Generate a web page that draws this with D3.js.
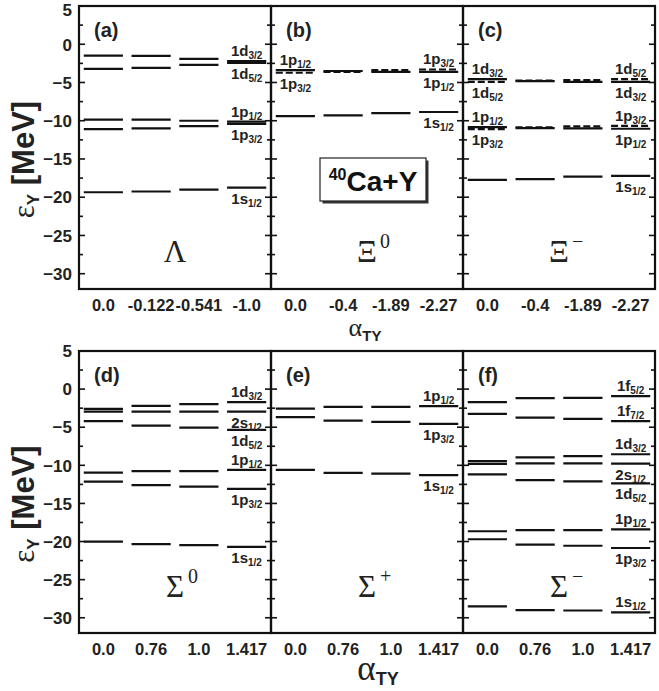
<!DOCTYPE html>
<html><head><meta charset="utf-8">
<script src="https://cdn.jsdelivr.net/npm/d3@7"></script>
<style>body{margin:0;background:#fff} svg{display:block}</style>
</head><body>
<svg id="chart" width="659" height="691"></svg>
<script>
// ---------- data ----------
const yTickValues = [5, 0, -5, -10, -15, -20, -25, -30];
const xLabelsLambda = ["0.0", "-0.122", "-0.541", "-1.0"];
const xLabelsXi = ["0.0", "-0.4", "-1.89", "-2.27"];
const xLabelsSigma = ["0.0", "0.76", "1.0", "1.417"];
const panelLetters = ["(a)", "(b)", "(c)", "(d)", "(e)", "(f)"];
const hyperonNames = [["Λ", ""], ["Ξ", "0"], ["Ξ", "−"], ["Σ", "0"], ["Σ", "+"], ["Σ", "−"]];

// single-particle levels [state, values at the 4 couplings]
const levelsLambda = [
  ["1d3/2", [-1.5, -1.53, -1.92, -2.2]],
  ["1d5/2", [-3.23, -3.08, -2.7, -2.45]],
  ["1p1/2", [-9.85, -9.85, -10.0, -10.12]],
  ["1p3/2", [-11.1, -11.0, -10.7, -10.4]],
  ["1s1/2", [-19.35, -19.25, -19.0, -18.75]]
];
const levelsXi0 = [
  ["1p1/2", [-3.38, -3.5, -3.6, -3.6]],
  ["1p3/2", [-3.73, -3.62, -3.38, -3.3]],
  ["1s1/2", [-9.39, -9.3, -9.0, -8.86]]
];
const levelsXiMinus = [
  ["1d3/2", [-4.56, -4.82, -4.91, -4.91]],
  ["1d5/2", [-4.91, -4.74, -4.69, -4.56]],
  ["1p1/2", [-10.83, -10.96, -11.0, -11.05]],
  ["1p3/2", [-11.1, -10.88, -10.75, -10.66]],
  ["1s1/2", [-17.72, -17.64, -17.3, -17.2]]
];
const levelsSigma0 = [
  ["1d3/2", [-2.6, -2.2, -1.97, -1.71]],
  ["2s1/2", [-2.95, -2.95, -2.95, -2.95]],
  ["1d5/2", [-4.2, -4.8, -5.05, -5.36]],
  ["1p1/2", [-10.95, -10.75, -10.75, -10.6]],
  ["1p3/2", [-12.15, -12.6, -12.8, -13.1]],
  ["1s1/2", [-20.02, -20.35, -20.48, -20.7]]
];
const levelsSigmaPlus = [
  ["1p1/2", [-2.55, -2.33, -2.33, -2.24]],
  ["1p3/2", [-3.68, -4.13, -4.3, -4.57]],
  ["1s1/2", [-10.6, -11.0, -11.1, -11.28]]
];
const levelsSigmaMinus = [
  ["1f5/2", [-1.71, -1.18, -1.14, -0.92]],
  ["1f7/2", [-3.25, -3.73, -3.9, -4.21]],
  ["1d3/2", [-9.46, -8.95, -8.78, -8.55]],
  ["2s1/2", [-9.8, -9.74, -9.74, -9.78]],
  ["1d5/2", [-11.2, -11.93, -12.1, -12.37]],
  ["1p1/2", [-18.65, -18.5, -18.5, -18.4]],
  ["1p3/2", [-19.7, -20.4, -20.55, -20.85]],
  ["1s1/2", [-28.5, -29.0, -29.05, -29.3]]
];

// level labels: [state, coupling index, side]
const labelsLambda = [["1d3/2",3,"above"],["1d5/2",3,"below"],["1p1/2",3,"above"],["1p3/2",3,"below"],["1s1/2",3,"below"]];
const labelsXi0 = [["1p1/2",0,"above"],["1p3/2",0,"below"],["1p3/2",3,"above"],["1p1/2",3,"below"],["1s1/2",3,"below"]];
const labelsXiMinus = [["1d3/2",0,"above"],["1d5/2",0,"below"],["1p1/2",0,"above"],["1p3/2",0,"below"],
  ["1d5/2",3,"above"],["1d3/2",3,"below"],["1p3/2",3,"above"],["1p1/2",3,"below"],["1s1/2",3,"below"]];
const labelsSigma0 = [["1d3/2",3,"above"],["2s1/2",3,"below"],["1d5/2",3,"below"],["1p1/2",3,"above"],["1p3/2",3,"below"],["1s1/2",3,"below"]];
const labelsSigmaPlus = [["1p1/2",3,"above"],["1p3/2",3,"below"],["1s1/2",3,"below"]];
const labelsSigmaMinus = [["1f5/2",3,"above"],["1f7/2",3,"above"],["1d3/2",3,"above"],["2s1/2",3,"below"],["1d5/2",3,"below"],
  ["1p1/2",3,"above"],["1p3/2",3,"below"],["1s1/2",3,"above"]];

// ---------- drawing ----------
const svg = d3.select("#chart");
const SANS = "'Liberation Sans', Arial, sans-serif";
const SERIF = "'Liberation Serif', 'Times New Roman', serif";
const panelLefts = [79, 271, 463];
const panelW = 192;
const rows = [{top: 6, bottom: 289}, {top: 351, bottom: 633}];

const panels = [
  {row: 0, col: 0, levels: levelsLambda, labels: labelsLambda, xl: xLabelsLambda, dashedStates: []},
  {row: 0, col: 1, levels: levelsXi0, labels: labelsXi0, xl: xLabelsXi, dashedStates: ["1p3/2","1d5/2"]},
  {row: 0, col: 2, levels: levelsXiMinus, labels: labelsXiMinus, xl: xLabelsXi, dashedStates: ["1p3/2","1d5/2"]},
  {row: 1, col: 0, levels: levelsSigma0, labels: labelsSigma0, xl: xLabelsSigma, dashedStates: []},
  {row: 1, col: 1, levels: levelsSigmaPlus, labels: labelsSigmaPlus, xl: xLabelsSigma, dashedStates: []},
  {row: 1, col: 2, levels: levelsSigmaMinus, labels: labelsSigmaMinus, xl: xLabelsSigma, dashedStates: []}
];

function addStateLabel(g, x, y, state) {
  const main = state.slice(0, 2), sub = state.slice(2);
  const t = g.append("text").attr("x", x).attr("y", y).attr("text-anchor", "middle")
    .attr("font-family", SANS).attr("font-weight", "bold").attr("font-size", 15).attr("fill", "#222");
  t.append("tspan").text(main);
  t.append("tspan").attr("dy", 3).attr("font-size", 10).text(sub);
}

panels.forEach((p, i) => {
  const r = rows[p.row];
  const left = panelLefts[p.col], right = left + panelW;
  const y = d3.scaleLinear().domain([-32, 5]).range([r.bottom, r.top]);
  const x = d3.scaleBand().domain(d3.range(4)).range([left, right]).paddingInner(0.18).paddingOuter(0.1);
  const g = svg.append("g");

  // levels
  p.levels.forEach(([state, vals]) => {
    const dashed = p.dashedStates.includes(state);
    vals.forEach((v, k) => {
      g.append("line")
        .attr("x1", x(k)).attr("x2", x(k) + x.bandwidth())
        .attr("y1", y(v)).attr("y2", y(v))
        .attr("stroke", "#111").attr("stroke-width", 2.2)
        .attr("stroke-dasharray", dashed ? "7,3" : null);
    });
  });

  // labels of levels
  p.labels.forEach(([state, k, side]) => {
    const v = p.levels.find(d => d[0] === state)[1][k];
    const yy = y(v) + (side === "above" ? -5 : 16);
    addStateLabel(g, x(k) + x.bandwidth() / 2, yy, state);
  });

  // frame
  g.append("rect").attr("x", left).attr("y", r.top).attr("width", panelW).attr("height", r.bottom - r.top)
    .attr("fill", "none").attr("stroke", "#111").attr("stroke-width", 2.2);

  // ticks inward on both sides, every 2.5
  const tickVals = d3.range(5, -32, -2.5);
  tickVals.forEach(tv => {
    if (tv === 5) return;
    const len = (tv % 5 === 0) ? 6 : 4;
    g.append("line").attr("x1", left).attr("x2", left + len).attr("y1", y(tv)).attr("y2", y(tv))
      .attr("stroke", "#111").attr("stroke-width", 1.6);
    g.append("line").attr("x1", right).attr("x2", right - len).attr("y1", y(tv)).attr("y2", y(tv))
      .attr("stroke", "#111").attr("stroke-width", 1.6);
  });

  // y axis labels on first column
  if (p.col === 0) {
    const ax = d3.axisLeft(y).tickValues(yTickValues).tickSize(0).tickPadding(7).tickFormat(d3.format("d"));
    const axg = svg.append("g").attr("transform", `translate(${left},0)`).call(ax);
    axg.select(".domain").remove();
    axg.selectAll("text").attr("font-family", SANS).attr("font-weight", "bold").attr("font-size", 17).attr("fill", "#222")
      .attr("dy", d => (d === 5 && p.row === 0) ? "0.55em" : "0.34em");
  }

  // x labels
  const xa = d3.axisBottom(x).tickSize(0).tickPadding(0).tickFormat(k => p.xl[k]);
  const xg = svg.append("g").attr("transform", `translate(0,${r.bottom + 10})`).call(xa);
  xg.select(".domain").remove();
  xg.selectAll("text").attr("font-family", SANS).attr("font-weight", "bold").attr("font-size", 16.5).attr("fill", "#222")
    .attr("dy", "0.71em");

  // panel letter
  g.append("text").attr("x", left + 15).attr("y", r.top + 31).attr("font-family", SANS).attr("font-weight", "bold")
    .attr("font-size", 20).attr("fill", "#222").text(panelLetters[i]);

  // hyperon name
  const cx = left + panelW / 2;
  const by = p.row === 0 ? r.top + 256 : r.top + 246;
  g.append("text").attr("x", cx).attr("y", by).attr("text-anchor", "middle").attr("font-family", SERIF)
    .attr("font-size", 31).attr("fill", "#222").text(hyperonNames[i][0]);
  if (hyperonNames[i][1]) {
    g.append("text").attr("x", cx + 13).attr("y", by - 14).attr("font-family", SERIF)
      .attr("font-size", 20).attr("fill", "#222").text(hyperonNames[i][1]);
  }
});

// y axis titles
rows.forEach((r, ri) => {
  const cy = (r.top + r.bottom) / 2 + 12;
  const t = svg.append("text").attr("transform", `translate(34,${cy}) rotate(-90)`).attr("text-anchor", "middle")
    .attr("fill", "#222");
  t.append("tspan").attr("font-family", SERIF).attr("font-size", 31).text("ε");
  t.append("tspan").attr("font-family", SANS).attr("font-weight", "bold").attr("font-size", 17).attr("dy", 5).text("Y");
  t.append("tspan").attr("font-family", SANS).attr("font-weight", "bold").attr("font-size", 31).attr("dy", -5).text(" [MeV]");
});

// x axis titles
[{y: 336, x: 365, a: 26, s: 15}, {y: 680, x: 378, a: 35, s: 18}].forEach(o => {
  const t = svg.append("text").attr("x", o.x).attr("y", o.y).attr("text-anchor", "middle").attr("fill", "#222");
  t.append("tspan").attr("font-family", SERIF).attr("font-size", o.a).text("α");
  t.append("tspan").attr("font-family", SANS).attr("font-weight", "bold").attr("font-size", o.s).attr("dy", 5).text("TY");
});

// nucleus box
const bx = 320, byy = 158, bw = 106, bh = 43;
svg.append("rect").attr("x", bx + 2.5).attr("y", byy + 2.5).attr("width", bw).attr("height", bh).attr("fill", "#333");
svg.append("rect").attr("x", bx).attr("y", byy).attr("width", bw).attr("height", bh).attr("fill", "#fff")
  .attr("stroke", "#222").attr("stroke-width", 1.2);
const bt = svg.append("text").attr("x", bx + bw / 2).attr("y", byy + 33).attr("text-anchor", "middle")
  .attr("font-family", SANS).attr("font-weight", "bold").attr("fill", "#111");
bt.append("tspan").attr("font-size", 16).attr("dy", -11).text("40");
bt.append("tspan").attr("font-size", 28).attr("dy", 11).text("Ca+Y");
</script>
</body></html>
